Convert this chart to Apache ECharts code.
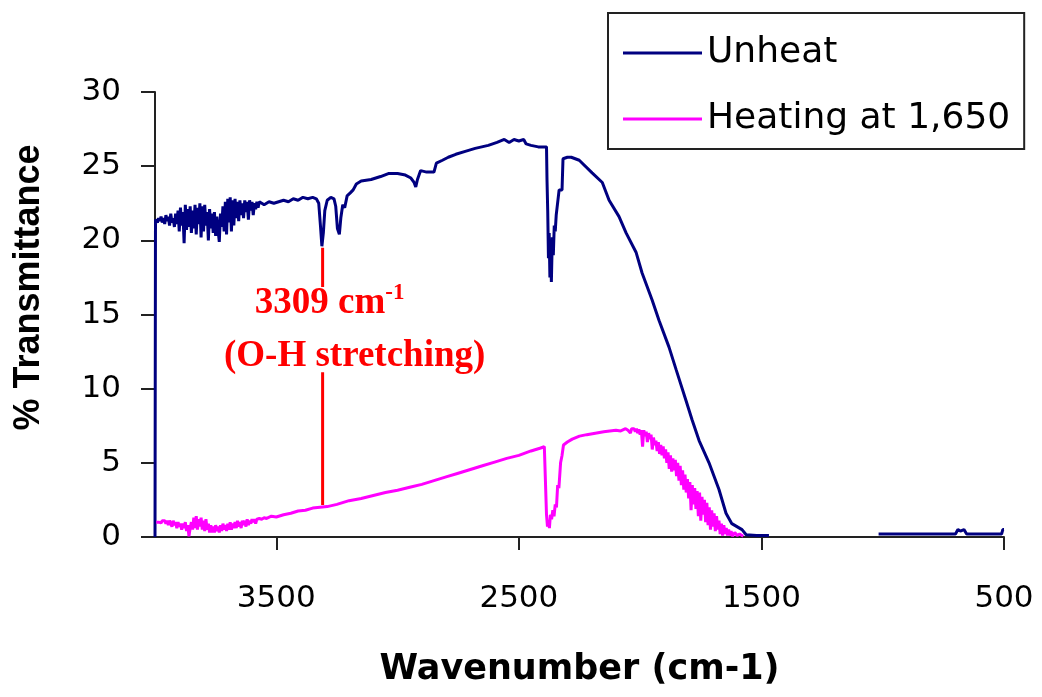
<!DOCTYPE html>
<html>
<head>
<meta charset="utf-8">
<script src="https://cdn.jsdelivr.net/npm/echarts@6/dist/echarts.min.js"></script>
<style>html,body{margin:0;padding:0;background:#fff;}#chart{width:1042px;height:697px;}</style>
</head>
<body>
<div id="chart"></div>
<script>
// ---- data ----
const seriesNames = ['Unheat', 'Heating at 1,650'];
const xTicks = [500, 1500, 2500, 3500];
const yTicks = [0, 5, 10, 15, 20, 25, 30];

// [wavenumber (cm-1), % transmittance]
const unheat = [
  [4000,0],[3998,21.4],[3995,21.4],[3990,21.2],[3985,21.5],[3980,21.3],[3975,21.6],[3970,21.2],[3965,21.5],[3960,21.1],
  [3955,21.7],[3950,21.3],[3945,21.6],[3940,21.0],[3935,21.8],[3930,21.2],[3925,21.5],[3920,20.9],[3915,21.8],[3910,21.1],
  [3905,22.0],[3900,20.6],[3895,22.2],[3890,21.0],[3885,21.9],[3880,19.8],[3875,22.4],[3870,20.7],[3865,22.1],[3860,20.9],
  [3855,22.3],[3850,20.5],[3845,22.0],[3840,20.8],[3835,22.4],[3830,20.4],[3825,22.2],[3820,21.1],[3815,22.5],[3810,20.2],
  [3805,22.3],[3800,20.6],[3795,22.4],[3790,21.0],[3785,21.9],[3780,20.0],[3775,22.1],[3770,20.8],[3765,21.8],[3760,20.5],
  [3755,21.9],[3750,20.3],[3745,21.6],[3740,20.7],[3735,19.9],[3730,21.8],[3725,20.9],[3720,22.3],[3715,20.6],[3710,22.6],
  [3705,20.4],[3700,22.8],[3695,21.2],[3690,22.9],[3685,20.6],[3680,22.7],[3675,21.0],[3670,22.8],[3665,21.5],[3660,22.6],
  [3655,21.3],[3650,22.7],[3645,21.7],[3640,22.5],[3635,21.5],[3630,22.7],[3625,21.9],[3620,22.6],[3615,21.4],[3610,22.7],
  [3605,22.0],[3600,22.6],[3595,21.7],[3590,22.5],[3585,22.1],[3580,22.6],[3575,22.2],[3570,22.6],
  [3550,22.4],[3530,22.6],[3510,22.5],[3490,22.6],[3470,22.7],[3450,22.6],[3430,22.8],[3410,22.7],[3390,22.9],
  [3370,22.8],[3350,22.9],[3335,22.8],[3325,22.5],[3318,21.0],[3312,19.6],[3306,20.5],[3300,22.0],[3290,22.7],[3275,22.9],
  [3262,22.8],[3255,22.3],[3248,20.8],[3240,20.4],[3234,21.5],[3226,22.4],[3218,22.2],[3208,23.0],[3195,23.2],[3183,23.4],
  [3170,23.8],[3150,24.0],[3109,24.1],[3070,24.3],[3038,24.5],[3000,24.5],[2968,24.4],[2945,24.2],[2932,23.9],[2925,23.6],
  [2918,24.1],[2905,24.7],[2880,24.6],[2850,24.6],[2843,24.6],[2840,25.2],[2815,25.4],[2791,25.6],[2760,25.8],[2721,26.0],
  [2680,26.2],[2626,26.4],[2590,26.6],[2560,26.8],[2540,26.6],[2520,26.8],[2500,26.7],[2480,26.8],[2470,26.5],[2450,26.4],
  [2420,26.3],[2386,26.3],[2384,24.1],[2381,22.0],[2378,18.8],[2375,20.5],[2372,17.5],[2369,19.8],[2366,17.2],[2362,20.2],
  [2358,19.0],[2354,21.0],[2350,20.6],[2346,21.7],[2338,21.7],[2334,23.4],[2322,23.4],[2318,25.5],[2300,25.6],[2284,25.6],
  [2251,25.4],[2198,24.55],[2156,23.9],[2128,22.7],[2087,21.6],[2058,20.5],[2017,19.2],[1992,17.8],[1951,16.0],[1922,14.6],
  [1881,12.8],[1852,11.3],[1811,9.2],[1786,7.9],[1757,6.5],[1716,5.0],[1675,3.2],[1646,1.6],[1622,0.9],[1580,0.5],
  [1563,0.15],[1520,0.1],[1469,0.1],[1300,'-'],
  [1017,0.2],[900,0.2],[800,0.2],[700,0.2],[690,0.5],[680,0.4],[665,0.5],[654,0.2],[560,0.2],[510,0.2],[505,0.5],[500,0.5]
];

const heating = [
  [3995,1.0],[3990,1.1],[3985,1.0],[3980,1.05],[3975,0.95],[3970,1.1],[3965,1.0],[3960,1.1],[3955,0.9],[3950,1.1],
  [3945,0.8],[3940,1.1],[3935,0.9],[3930,0.7],[3925,1.1],[3920,0.8],[3915,1.0],[3910,0.6],[3905,1.0],[3900,0.7],
  [3895,0.9],[3890,0.5],[3885,0.9],[3880,0.6],[3875,1.0],[3870,0.4],[3865,0.8],[3860,0.05],[3855,0.6],[3850,1.0],
  [3845,0.5],[3840,1.3],[3835,0.6],[3830,1.4],[3825,0.5],[3820,1.2],[3815,0.7],[3810,1.3],[3805,0.5],[3800,1.1],
  [3795,0.4],[3790,1.2],[3785,0.5],[3780,0.9],[3775,0.3],[3770,0.8],[3765,0.3],[3760,0.7],[3755,0.3],[3750,0.8],
  [3745,0.4],[3740,0.7],[3735,0.3],[3730,0.8],[3725,0.4],[3720,0.9],[3715,0.5],[3710,0.8],[3705,0.4],[3700,0.9],
  [3695,0.5],[3690,1.0],[3685,0.5],[3680,0.9],[3675,0.6],[3670,1.0],[3665,0.6],[3660,1.1],[3655,0.7],[3650,1.0],
  [3645,0.6],[3640,1.1],[3635,0.8],[3630,1.1],[3625,0.7],[3620,1.2],[3615,0.8],[3610,1.1],[3605,0.9],[3600,1.2],
  [3595,1.0],[3590,1.2],[3585,0.9],[3580,1.2],[3575,1.1],[3570,1.25],[3560,1.2],[3550,1.3],[3540,1.25],[3520,1.4],
  [3500,1.35],[3470,1.5],[3440,1.6],[3410,1.75],[3380,1.8],[3350,1.95],[3320,2.0],[3290,2.05],[3250,2.2],[3200,2.45],
  [3150,2.6],[3100,2.8],[3050,3.0],[3000,3.15],[2950,3.35],[2900,3.55],[2850,3.8],[2800,4.05],[2750,4.3],[2700,4.55],
  [2650,4.8],[2600,5.05],[2550,5.3],[2500,5.5],[2450,5.8],[2410,6.0],[2395,6.1],[2388,6.0],[2386,1.5],[2382,0.7],
  [2378,1.1],[2374,0.6],[2370,1.5],[2365,1.2],[2360,1.8],[2355,1.4],[2350,2.2],[2345,2.0],[2340,3.5],[2335,3.3],
  [2328,5.0],[2322,5.5],[2316,6.2],[2300,6.4],[2280,6.6],[2250,6.8],[2220,6.9],[2150,7.1],[2100,7.2],[2080,7.15],
  [2060,7.3],[2050,7.2],[2045,7.3],[2040,7.0],[2035,7.3],[2030,7.2],[2025,7.3],[2020,7.1],[2015,7.3],[2010,7.0],
  [2005,7.25],[2000,6.9],[1995,7.2],[1990,6.1],[1985,7.2],[1980,6.8],[1975,7.1],[1970,6.4],[1965,7.0],[1960,6.6],
  [1955,6.9],[1950,5.9],[1945,6.7],[1940,6.2],[1935,6.5],[1930,5.8],[1925,6.4],[1920,5.6],[1915,6.2],[1910,5.5],
  [1905,6.1],[1900,5.3],[1895,5.9],[1890,5.0],[1885,5.7],[1880,4.6],[1875,5.5],[1870,4.4],[1865,5.3],[1860,4.5],
  [1855,5.2],[1850,4.1],[1845,5.0],[1840,3.8],[1835,4.8],[1830,3.5],[1825,4.5],[1820,3.2],[1815,4.2],[1810,3.0],
  [1805,3.9],[1800,2.6],[1795,3.7],[1790,1.8],[1785,3.5],[1780,2.2],[1775,3.3],[1770,1.9],[1765,3.1],[1760,1.4],
  [1755,3.0],[1750,1.1],[1745,2.7],[1740,1.5],[1735,2.5],[1730,1.0],[1725,2.3],[1720,0.8],[1715,2.0],[1710,0.5],
  [1705,1.8],[1700,0.7],[1695,1.6],[1690,0.4],[1685,1.4],[1680,0.5],[1675,1.1],[1670,0.2],[1665,0.9],[1660,0.1],
  [1655,0.8],[1650,0.2],[1645,0.6],[1640,0.1],[1635,0.5],[1630,0.1],[1625,0.4],[1620,0.05],[1610,0.3],[1600,0.1],
  [1590,0.2],[1580,0.1],[1575,0.05]
];

// annotation: O-H stretching band
const ohLine = [[3309,19.5],[3309,16.85],[3309,'-'],[3309,11.1],[3309,2.15]];
const ohLabels = [
  {value: [3280, 15.85], main: '3309 cm', sup: '-1'},
  {value: [3177, 12.27], main: '(O-H stretching)', sup: ''}
];

const colors = ['#000080', '#FF00FF'];

const chart = echarts.init(document.getElementById('chart'), null, {renderer: 'canvas'});
const axisColor = '#222';
chart.setOption({
  animation: false,
  backgroundColor: '#fff',
  grid: {left: 155, right: 38, top: 92, bottom: 160, containLabel: false},
  legend: {
    data: seriesNames,
    orient: 'vertical',
    left: 608, top: 13,
    icon: 'rect', itemWidth: 79, itemHeight: 3, itemGap: 30, itemTextGap: 11,
    padding: [22, 14, 12, 15],
    borderColor: '#222', borderWidth: 2, backgroundColor: '#fff',
    textStyle: {fontFamily: 'DejaVu Sans', fontSize: 36, color: '#000'},
    itemStyle: {borderWidth: 0},
    selectedMode: false
  },
  xAxis: {
    type: 'value', min: 500, max: 4000, inverse: true,
    name: 'Wavenumber (cm-1)', nameLocation: 'middle', nameGap: 115,
    nameTextStyle: {fontFamily: 'DejaVu Sans', fontWeight: 'bold', fontSize: 35, color: '#000'},
    axisLine: {show: true, onZero: false, lineStyle: {color: axisColor, width: 2}},
    axisTick: {show: true, length: 13, customValues: xTicks, lineStyle: {color: axisColor, width: 2}},
    axisLabel: {customValues: xTicks, margin: 46, fontFamily: 'DejaVu Sans', fontSize: 31, color: '#000',
      formatter: v => String(v)},
    splitLine: {show: false}
  },
  yAxis: {
    type: 'value', min: 0, max: 30, interval: 5,
    name: '% Transmittance', nameLocation: 'middle', nameGap: 108, nameRotate: 90,
    nameTextStyle: {fontFamily: 'Liberation Sans', fontWeight: 'bold', fontSize: 36, color: '#000', padding: [0,0,0,54]},
    axisLine: {show: true, lineStyle: {color: axisColor, width: 2}},
    axisTick: {show: true, length: 14, lineStyle: {color: axisColor, width: 2}},
    axisLabel: {margin: 34, fontFamily: 'DejaVu Sans', fontSize: 31, color: '#000',
      formatter: v => yTicks.includes(v) ? String(v) : ''},
    splitLine: {show: false}
  },
  series: [
    {
      name: seriesNames[0], type: 'line', data: unheat, showSymbol: false, symbol: 'none',
      connectNulls: false, color: colors[0], lineStyle: {color: colors[0], width: 3}, z: 3
    },
    {
      name: seriesNames[1], type: 'line', data: heating, showSymbol: false, symbol: 'none',
      color: colors[1], lineStyle: {color: colors[1], width: 3}, z: 4
    },
    {
      name: 'oh-line', type: 'line', data: ohLine, showSymbol: false, symbol: 'none',
      connectNulls: false, lineStyle: {color: '#FF0000', width: 3}, z: 5
    },
    {
      name: 'oh-label', type: 'scatter', symbolSize: 0, z: 6,
      itemStyle: {opacity: 1, color: '#FF0000'},
      data: ohLabels.map(d => ({value: d.value, main: d.main, sup: d.sup})),
      label: {
        show: true, position: 'inside', opacity: 1,
        formatter: p => '{m|' + p.data.main + '}' + (p.data.sup ? '{s|' + p.data.sup + '}' : ''),
        rich: {
          m: {fontFamily: 'Liberation Serif', fontWeight: 'bold', fontSize: 37, color: '#FF0000', verticalAlign: 'bottom', lineHeight: 40},
          s: {fontFamily: 'Liberation Serif', fontWeight: 'bold', fontSize: 23, color: '#FF0000', verticalAlign: 'top', lineHeight: 40}
        }
      },
      emphasis: {disabled: true},
      silent: true
    }
  ]
});
</script>
</body>
</html>
